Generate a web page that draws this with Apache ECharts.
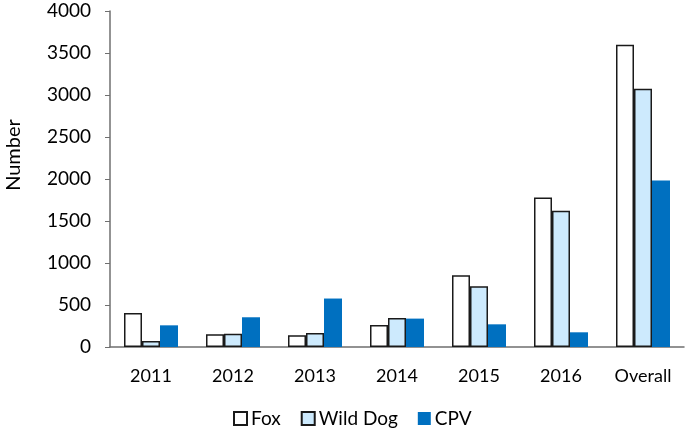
<!DOCTYPE html>
<html><head><meta charset="utf-8">
<script src="https://cdn.jsdelivr.net/npm/echarts@6/dist/echarts.min.js"></script>
<style>html,body{margin:0;padding:0;background:#fff}#c{width:685px;height:436px}</style>
</head><body><div id="c"></div>
<script>
const categories = ['2011','2012','2013','2014','2015','2016','Overall'];
const foxValues = [405, 151, 139, 262, 854, 1780, 3599];
const wildDogValues = [72, 158, 167, 346, 723, 1621, 3074];
const cpvValues = [258, 354, 577, 338, 270, 175, 1983];
const yTicks = [0, 500, 1000, 1500, 2000, 2500, 3000, 3500, 4000];
const FONT = 'Lato';
const chart = echarts.init(document.getElementById('c'));
const barCommon = {type: 'bar', barGap: '0%', barWidth: 18};
chart.setOption({
  animation: false,
  textStyle: {fontFamily: FONT},
  grid: {left: 110, right: 1, top: 11, bottom: 89, containLabel: false},
  legend: {
    bottom: 3, left: 228, itemWidth: 13, itemHeight: 13, itemGap: 20, icon: 'rect',
    textStyle: {fontFamily: FONT, fontSize: 19, color: '#000', padding: [0, 0, 0, -1]},
    data: ['Fox','Wild Dog','CPV']
  },
  graphic: [{
    type: 'text', x: 14, y: 155, rotation: Math.PI / 2,
    style: {text: 'Number', fontFamily: FONT, fontSize: 20, fill: '#000',
      align: 'center', verticalAlign: 'middle'}
  }],
  xAxis: {
    type: 'category', data: categories,
    axisLine: {lineStyle: {color: '#6f6f6f', width: 1.5}},
    axisTick: {show: false},
    axisLabel: {color: '#000', fontSize: 18, margin: 20, fontFamily: FONT}
  },
  yAxis: {
    type: 'value', min: yTicks[0], max: yTicks[yTicks.length-1], interval: 500,
    axisLine: {show: true, lineStyle: {color: '#6f6f6f', width: 1.5}},
    axisTick: {show: true, length: 5, lineStyle: {color: '#6f6f6f'}},
    axisLabel: {color: '#000', fontSize: 19, margin: 19, fontFamily: FONT,
      formatter: v => String(v)},
    splitLine: {show: false}
  },
  series: [
    Object.assign({name: 'Fox', data: foxValues,
     itemStyle: {color: '#ffffff', borderColor: '#1a1a1a', borderWidth: 1.5}}, barCommon),
    Object.assign({name: 'Wild Dog', data: wildDogValues,
     itemStyle: {color: '#cdeafd', borderColor: '#1a1a1a', borderWidth: 1.5}}, barCommon),
    Object.assign({name: 'CPV', data: cpvValues,
     itemStyle: {color: '#0070c0'}}, barCommon)
  ]
});
</script></body></html>
